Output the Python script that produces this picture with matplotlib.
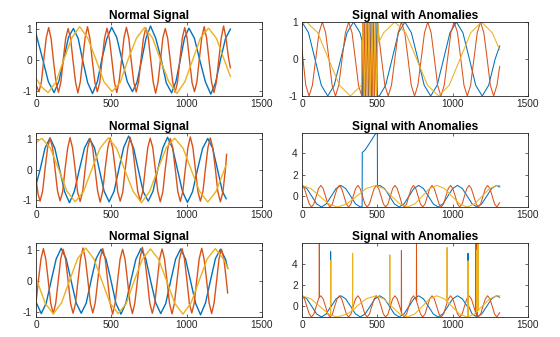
import matplotlib.pyplot as plt

plt.rcParams['font.family'] = ['Liberation Sans', 'DejaVu Sans']
plt.rcParams['axes.unicode_minus'] = False

BLUE = '#0072BD'
ORANGE = '#D95319'
YELLOW = '#EDB120'

# ---------------- row 1, normal signal ----------------
n1_blue_x = [0, 45, 82, 120,
             152, 184, 216, 248, 280, 311, 343, 375, 407, 438, 470, 502,
             536, 571, 606, 640, 670, 700, 730, 760, 795, 830, 865, 900,
             929, 958, 986, 1015, 1051, 1088, 1124, 1160, 1192, 1225, 1258, 1290]
n1_blue_y = [0.85, 0.02, -0.7, -1.05,
             -0.68, 0.03, 0.74, 1.02, 0.7, -0.04, -0.73, -1.08, -0.7, 0.05, 0.69, 1.06,
             0.73, 0.0, -0.7, -1.02, -0.72, -0.03, 0.7, 1.1, 0.7, 0.04, -0.74, -1.06,
             -0.69, 0.02, 0.72, 1.03, 0.71, -0.02, -0.7, -1.1, -0.73, 0.03, 0.7, 1.0]

n1_orange_x = [0, 20,
               36, 52, 68, 84, 100, 116, 133, 149, 165, 181, 197, 213,
               229, 245, 262, 278, 294, 310, 326, 342, 358, 374, 391, 407,
               423, 439, 455, 471, 487, 503, 520, 536, 552, 568, 584, 600,
               616, 632, 649, 665, 681, 697, 713, 729, 745, 761, 778, 794,
               810, 826, 842, 858, 874, 890, 907, 923, 939, 955, 971, 987,
               1003, 1019, 1036, 1052, 1068, 1084, 1100, 1116, 1132, 1148, 1165, 1181,
               1197, 1213, 1229, 1245, 1261, 1277, 1290]
n1_orange_y = [-0.8, -1.02,
               -0.7, 0.03, 0.72, 1.05, 0.7, -0.02, -0.73, -1.04, -0.71, 0.02, 0.7, 1.02,
               0.72, 0.01, -0.7, -1.06, -0.7, 0.04, 0.73, 1.08, 0.69, -0.03, -0.72, -1.02,
               -0.73, 0.02, 0.71, 1.03, 0.7, 0.03, -0.7, -1.05, -0.68, 0.01, 0.72, 1.06,
               0.71, -0.02, -0.72, -1.03, -0.7, 0.03, 0.7, 1.04, 0.73, 0.02, -0.71, -1.07,
               -0.71, -0.01, 0.72, 1.02, 0.7, 0.03, -0.7, -1.04, -0.72, 0.02, 0.71, 1.05,
               0.71, -0.01, -0.73, -1.02, -0.7, 0.04, 0.72, 1.08, 0.72, 0.02, -0.71, -1.05,
               -0.71, 0.01, 0.7, 1.1, 0.71, 0.1, -0.25]

n1_yellow_x = [0, 40, 80, 132, 185, 238, 290, 344, 398, 451, 505, 559, 612, 666, 720,
               774, 828, 881, 935, 988, 1040, 1092, 1145, 1198, 1250, 1290]
n1_yellow_y = [-0.6, -0.88, -1.05, -0.71, 0.02, 0.72, 1.08, 0.7, 0.02, -0.7, -1.02,
               -0.72, 0.03, 0.7, 1.05, 0.71, -0.02, -0.7, -1.08, -0.7, 0.01, 0.72, 1.03,
               0.7, 0.0, -0.53]

# ---------------- row 2, normal signal ----------------
n2_blue_x = [0, 28, 60, 93, 125, 158, 190, 222, 255, 289, 322, 355, 388, 420, 452, 485,
             518, 550, 582, 615, 648, 680, 712, 745, 777, 809, 841, 873, 906, 939, 972, 1005,
             1039, 1073, 1106, 1140, 1172, 1205, 1237, 1262]
n2_blue_y = [-0.5, 0.02, 0.71, 1.04, 0.7, -0.02, -0.72, -1.08, -0.7, 0.03, 0.71, 1.02,
             0.72, 0.01, -0.7, -1.05, -0.71, 0.02, 0.73, 1.1, 0.7, -0.03, -0.72, -1.03,
             -0.7, 0.02, 0.7, 1.06, 0.71, 0.0, -0.71, -1.07, -0.72, 0.03, 0.7, 1.02,
             0.71, 0.0, -0.71, -0.95]

n2_orange_x = [0, 14, 27,
               44, 60, 77, 93, 110, 127, 143, 160, 177, 193, 210, 226,
               243, 260, 276, 293, 310, 326, 343, 359, 376, 393, 409, 426,
               443, 459, 476, 492, 509, 526, 542, 559, 576, 592, 609, 625,
               642, 659, 675, 692, 709, 725, 742, 758, 775, 792, 808, 825,
               842, 858, 875, 891, 908, 925, 941, 958, 975, 991, 1008, 1024,
               1041, 1058, 1074, 1091, 1108, 1124, 1141, 1157, 1174, 1191, 1207, 1224,
               1241, 1257, 1265]
n2_orange_y = [-0.3, -0.8, -1.03,
               -0.7, 0.02, 0.72, 1.03, 0.71, -0.01, -0.7, -1.02, -0.72, 0.03, 0.7, 1.05,
               0.7, 0.02, -0.73, -1.04, -0.71, 0.01, 0.72, 1.02, 0.72, -0.03, -0.7, -1.06,
               -0.7, 0.03, 0.71, 1.04, 0.7, 0.02, -0.72, -1.03, -0.73, 0.01, 0.7, 1.06,
               0.71, -0.02, -0.7, -1.02, -0.7, 0.02, 0.73, 1.03, 0.72, 0.01, -0.71, -1.05,
               -0.72, 0.03, 0.7, 1.02, 0.7, -0.01, -0.71, -1.04, -0.7, 0.02, 0.71, 1.07,
               0.73, 0.02, -0.7, -1.03, -0.71, 0.01, 0.72, 1.04, 0.7, 0.0, -0.72, -1.05,
               -0.71, 0.0, 0.5]

n2_yellow_x = [0, 20, 40, 95, 150, 205, 260, 315, 370, 425, 480, 535, 590, 645, 700,
               755, 810, 865, 920, 975, 1030, 1085, 1140, 1195, 1250, 1265]
n2_yellow_y = [0.87, 0.97, 1.02, 0.71, 0.02, -0.7, -1.05, -0.72, 0.01, 0.7, 1.04,
               0.7, -0.02, -0.71, -1.08, -0.7, 0.03, 0.72, 1.03, 0.71, 0.0, -0.7, -1.06,
               -0.71, 0.0, 0.2]

# ---------------- row 3, normal signal ----------------
n3_blue_x = [0, 35, 68, 101, 134, 167, 200, 234, 267, 300, 333, 366, 399, 432,
             465, 498, 531, 564, 597, 630, 663, 696, 729, 762, 795, 828,
             861, 894, 927, 960, 993, 1026, 1059, 1092, 1125, 1158, 1191, 1224, 1257, 1272]
n3_blue_y = [-0.67, -1.04, -0.7, 0.02, 0.71, 1.05, 0.72, -0.01, -0.7, -1.03, -0.71, 0.03, 0.72, 1.02,
             0.7, 0.01, -0.72, -1.06, -0.7, 0.02, 0.7, 1.04, 0.71, -0.02, -0.7, -1.04,
             -0.72, 0.01, 0.71, 1.03, 0.7, 0.0, -0.71, -1.08, -0.7, 0.02, 0.72, 1.02, 0.71, 0.42]

n3_orange_x = [0, 16, 33, 49,
               65, 82, 98, 115, 131, 148, 164, 180, 196, 213, 229, 246,
               262, 279, 295, 312, 328, 345, 361, 377, 393, 410, 426, 443,
               459, 476, 492, 509, 525, 542, 558, 575, 591, 608, 624, 640,
               656, 673, 689, 706, 722, 739, 755, 772, 788, 805, 821, 837,
               853, 870, 886, 903, 919, 936, 952, 969, 985, 1002, 1018, 1034,
               1050, 1067, 1083, 1100, 1116, 1133, 1149, 1166, 1182, 1199, 1215, 1231,
               1247, 1264, 1272]
n3_orange_y = [-0.7, 0.02, 0.71, 1.04,
               0.7, -0.02, -0.72, -1.05, -0.7, 0.03, 0.71, 1.02, 0.71, 0.01, -0.7, -1.03,
               -0.72, 0.02, 0.7, 1.06, 0.7, -0.01, -0.71, -1.02, -0.7, 0.02, 0.73, 1.04,
               0.72, 0.0, -0.7, -1.06, -0.71, 0.03, 0.7, 1.02, 0.7, -0.02, -0.72, -1.04,
               -0.7, 0.01, 0.71, 1.08, 0.71, 0.02, -0.7, -1.03, -0.72, 0.02, 0.72, 1.03,
               0.7, -0.01, -0.71, -1.05, -0.7, 0.02, 0.7, 1.04, 0.72, 0.01, -0.72, -1.02,
               -0.71, 0.03, 0.71, 1.05, 0.7, 0.0, -0.7, -1.04, -0.7, 0.02, 0.72, 1.02,
               0.71, 0.0, -0.38]

n3_yellow_x = [0, 61, 115, 169, 223, 276, 330, 384, 438, 491, 545, 599, 653, 706, 760,
               814, 868, 921, 975, 1029, 1083, 1136, 1190, 1244, 1276]
n3_yellow_y = [0.1, -0.71, -1.05, -0.7, 0.02, 0.72, 1.06, 0.71, 0.0, -0.7, -1.04,
               -0.72, 0.02, 0.7, 1.03, 0.7, -0.01, -0.71, -1.06, -0.7, 0.02, 0.71, 1.04,
               0.71, 0.4]

# ---------------- row 1, anomalies (burst 400-500) ----------------
a1_blue_x = [0, 43, 86, 128, 171, 214, 257, 299, 342, 385, 398,
             401, 411, 421, 431, 441, 451, 461, 471, 481, 491, 501,
             513, 555, 598, 640, 683, 726, 769, 811, 854, 897, 940, 982, 1025,
             1068, 1111, 1153, 1196, 1239, 1282, 1312]
a1_blue_y = [1, 0.71, 0, -0.71, -1, -0.71, 0, 0.71, 1, 0.71, 0.5,
             -1, 1, -1, 1, -1, 1, -1, 1, -1, 1, -1,
             -1, -0.71, 0, 0.71, 1, 0.71, 0, -0.71, -1, -0.71, 0, 0.71, 1,
             0.71, 0, -0.71, -1, -0.71, 0, 0.35]

a1_orange_x = [0, 25, 47, 69, 91, 113, 135, 157, 179, 200, 222,
               244, 266, 288, 310, 332, 354, 375, 397,
               403, 410, 417, 424, 431, 438, 445, 452, 459, 466, 473, 480, 487, 494, 501,
               508, 528, 550, 572, 594, 616, 638, 660, 682, 704, 725, 747,
               769, 791, 813, 835, 857, 879, 900, 922, 944, 966, 988, 1010,
               1032, 1054, 1075, 1097, 1119, 1141, 1163, 1185, 1207, 1229, 1250, 1272,
               1294, 1312]
a1_orange_y = [0.25, -0.71, -1, -0.71, 0, 0.71, 1, 0.71, 0, -0.71, -1,
               -0.71, 0, 0.71, 1, 0.71, 0, -0.71, -1,
               1, -1, 1, -1, 1, -1, 1, -1, 1, -1, 1, -1, 1, -1, 1,
               0.68, 0, -0.71, -1, -0.71, 0, 0.71, 1, 0.71, 0, -0.71, -1,
               -0.71, 0, 0.71, 1, 0.71, 0, -0.71, -1, -0.71, 0, 0.71, 1,
               0.71, 0, -0.71, -1, -0.71, 0, 0.71, 1, 0.71, 0, -0.71, -1,
               -0.71, -0.2]

a1_yellow_x = [0, 31, 104, 176, 249, 321, 394,
               405, 415, 425, 435, 445, 455, 465, 475, 485, 495, 505,
               510, 542, 616, 688, 761, 833, 906, 977, 1049, 1120, 1191, 1263, 1312]
a1_yellow_y = [0.95, 1, 0.71, 0, -0.71, -1, -0.71,
               1, -1, 1, -1, 1, -1, 1, -1, 1, -1, 1,
               0.45, 0.71, 1, 0.71, 0, -0.71, -1, -0.71, 0, 0.71, 1, 0.71, 0.25]

# ---------------- row 2, anomalies (offset 400-500) ----------------
a2_blue_x = [0, 32, 65, 97, 129, 161, 194, 226, 258, 290, 323, 355, 387,
             399, 400, 419, 452, 484, 500, 501, 516,
             548, 581, 613, 645, 677, 710, 742, 774, 806, 839, 871, 903,
             935, 968, 1000, 1032, 1064, 1097, 1129, 1161, 1193, 1226, 1258, 1290, 1312]
a2_blue_y = [1, 0.71, 0, -0.71, -1, -0.71, 0, 0.71, 1, 0.71, 0, -0.71, -1,
             -0.95, 4.05, 4.29, 5.0, 5.71, 5.93, 0.93, 1,
             0.71, 0, -0.71, -1, -0.71, 0, 0.71, 1, 0.71, 0, -0.71, -1,
             -0.71, 0, 0.71, 1, 0.71, 0, -0.71, -1, -0.71, 0, 0.71, 1, 0.86]

a2_orange_x = [0, 16, 32, 48, 63, 79, 94, 110, 125, 140, 156, 171, 186,
               202, 217, 233, 248, 263, 279, 294, 309, 325, 340, 356, 371,
               386, 402, 417, 432, 448, 463, 479, 494, 509, 525, 540, 555,
               571, 586, 602, 617, 632, 648, 663, 678, 694, 709, 725, 740,
               755, 771, 786, 801, 817, 832, 848, 863, 878, 894, 909, 924,
               940, 955, 971, 986, 1001, 1017, 1032, 1047, 1063, 1078, 1094, 1109,
               1124, 1140, 1155, 1170, 1186, 1201, 1217, 1232, 1247, 1263, 1278, 1293, 1312]
a2_orange_y = [1, 0.71, 0, -0.71, -1, -0.71, 0, 0.71, 1, 0.71, 0, -0.71, -1,
               -0.71, 0, 0.71, 1, 0.71, 0, -0.71, -1, -0.71, 0, 0.71, 1,
               0.71, 0, -0.71, -1, -0.71, 0, 0.71, 1, 0.71, 0, -0.71, -1,
               -0.71, 0, 0.71, 1, 0.71, 0, -0.71, -1, -0.71, 0, 0.71, 1,
               0.71, 0, -0.71, -1, -0.71, 0, 0.71, 1, 0.71, 0, -0.71, -1,
               -0.71, 0, 0.71, 1, 0.71, 0, -0.71, -1, -0.71, 0, 0.71, 1,
               0.71, 0, -0.71, -1, -0.71, 0, 0.71, 1, 0.71, 0, -0.71, -1, -0.6]

a2_yellow_x = [0, 59, 118, 176, 235, 299, 363, 426, 490, 543, 595, 648, 700,
               749, 798, 846, 895, 945, 995, 1045, 1095, 1145, 1195, 1245, 1295, 1312]
a2_yellow_y = [1, 0.71, 0, -0.71, -1, -0.71, 0, 0.71, 1, 0.71, 0, -0.71, -1,
               -0.71, 0, 0.71, 1, 0.71, 0, -0.71, -1, -0.71, 0, 0.71, 1, 0.99]

# ---------------- row 3, anomalies (single spikes) ----------------
a3_blue_x = [0, 32, 65, 97, 129, 161, 189, 190, 191, 194, 226, 258, 290, 323, 355, 387,
             419, 452, 484, 516, 548, 581, 613, 645, 677, 710, 742, 774, 806, 839, 871, 903,
             935, 968, 1000, 1032, 1064, 1097, 1101, 1102, 1103, 1129, 1161, 1193, 1226,
             1258, 1290, 1312]
a3_blue_y = [1, 0.71, 0, -0.71, -1, -0.71, -0.05, 5.15, -0.03, 0, 0.71, 1, 0.71, 0, -0.71, -1,
             -0.71, 0, 0.71, 1, 0.71, 0, -0.71, -1, -0.71, 0, 0.71, 1, 0.71, 0, -0.71, -1,
             -0.71, 0, 0.71, 1, 0.71, 0, 0.08, 5.0, 0.12, -0.71, -1, -0.71, 0,
             0.71, 1, 0.86]

a3_orange_x = [0, 16, 32, 48, 63, 79, 94, 110, 114, 115, 116, 125, 140, 156, 171, 186,
               202, 217, 233, 248, 263, 279, 294, 309, 325, 340, 356, 371,
               386, 402, 417, 432, 448, 463, 479, 494, 509, 525, 540, 555,
               571, 586, 602, 617, 632, 648, 659, 660, 661, 663, 678, 694, 709, 725, 740,
               755, 759, 760, 761, 771, 786, 801, 817, 832, 848, 863, 878, 894, 909, 924,
               940, 955, 971, 986, 1001, 1017, 1032, 1047, 1063, 1078, 1094, 1109,
               1124, 1140, 1154, 1155, 1156, 1162, 1163, 1164, 1170, 1186, 1201, 1217, 1232,
               1247, 1263, 1278, 1293, 1312]
a3_orange_y = [1, 0.71, 0, -0.71, -1, -0.71, 0, 0.71, 0.83, 5.9, 0.87, 1, 0.71, 0, -0.71, -1,
               -0.71, 0, 0.71, 1, 0.71, 0, -0.71, -1, -0.71, 0, 0.71, 1,
               0.71, 0, -0.71, -1, -0.71, 0, 0.71, 1, 0.71, 0, -0.71, -1,
               -0.71, 0, 0.71, 1, 0.71, 0, -0.55, 5.25, -0.62, -0.71, -1, -0.71, 0, 0.71, 1,
               0.71, 0.55, 5.95, 0.45, 0, -0.71, -1, -0.71, 0, 0.71, 1, 0.71, 0, -0.71, -1,
               -0.71, 0, 0.71, 1, 0.71, 0, -0.71, -1, -0.71, 0, 0.71, 1,
               0.71, 0, -0.68, 5.9, -0.74, -0.9, 6.1, -0.93, -1, -0.71, 0, 0.71, 1,
               0.71, 0, -0.71, -1, -0.6]

a3_yellow_x = [0, 59, 118, 176, 189, 190, 191, 235, 299, 335, 336, 337, 363, 426, 490,
               543, 582, 583, 584, 595, 648, 700, 749, 798, 846, 895, 945, 962, 963, 964, 995,
               1045, 1095, 1101, 1102, 1103, 1145, 1159, 1160, 1161, 1167, 1168, 1169,
               1195, 1245, 1295, 1312]
a3_yellow_y = [1, 0.71, 0, -0.71, -0.8, 4.3, -0.8, -1, -0.71, -0.4, 5.0, -0.4, 0, 0.71, 1,
               0.71, 0.17, 4.85, 0.15, 0, -0.71, -1, -0.71, 0, 0.71, 1, 0.71, 0.46, 5.55, 0.44, 0,
               -0.71, -1, -1, 4.3, -0.99, -0.71, -0.51, 5.3, -0.49, -0.39, 5.9, -0.37,
               0, 0.71, 1, 0.99]

panels = [
    ('Normal Signal', [(n1_blue_x, n1_blue_y), (n1_orange_x, n1_orange_y), (n1_yellow_x, n1_yellow_y)],
     (-1.16, 1.23), [-1, 0, 1]),
    ('Signal with Anomalies', [(a1_blue_x, a1_blue_y), (a1_orange_x, a1_orange_y), (a1_yellow_x, a1_yellow_y)],
     (-1, 1), [-1, 0, 1]),
    ('Normal Signal', [(n2_blue_x, n2_blue_y), (n2_orange_x, n2_orange_y), (n2_yellow_x, n2_yellow_y)],
     (-1.22, 1.2), [-1, 0, 1]),
    ('Signal with Anomalies', [(a2_blue_x, a2_blue_y), (a2_orange_x, a2_orange_y), (a2_yellow_x, a2_yellow_y)],
     (-1, 5.86), [0, 2, 4]),
    ('Normal Signal', [(n3_blue_x, n3_blue_y), (n3_orange_x, n3_orange_y), (n3_yellow_x, n3_yellow_y)],
     (-1.15, 1.22), [-1, 0, 1]),
    ('Signal with Anomalies', [(a3_blue_x, a3_blue_y), (a3_orange_x, a3_orange_y), (a3_yellow_x, a3_yellow_y)],
     (-1, 5.97), [0, 2, 4]),
]

fig = plt.figure(figsize=(5.6, 3.37), dpi=100)
lefts = [36 / 560, 302 / 560]
bottoms = [1 - 96 / 337, 1 - 207 / 337, 1 - 317 / 337]
w, h = 226 / 560, 74 / 337

for i, (title, series, ylim, yticks) in enumerate(panels):
    ax = fig.add_axes([lefts[i % 2], bottoms[i // 2], w, h])
    lw = 1.0 if i % 2 == 0 else 0.75
    for (x, y), c in zip(series, [BLUE, ORANGE, YELLOW]):
        ax.plot(x, y, color=c, lw=lw)
    ax.set_xlim(0, 1500)
    ax.set_ylim(*ylim)
    ax.set_xticks([0, 500, 1000, 1500])
    ax.set_yticks(yticks)
    ax.set_title(title, fontsize=8.6, fontweight='bold', pad=2.5, color='#000000')
    ax.tick_params(direction='in', length=2.5, width=0.5, top=True, right=True,
                   labelsize=7.3, colors='#262626', pad=2)
    ax.tick_params(axis='y', pad=3)
    for s in ax.spines.values():
        s.set_linewidth(0.6)
        s.set_color('#262626')

fig.savefig('out.png', dpi=100)
